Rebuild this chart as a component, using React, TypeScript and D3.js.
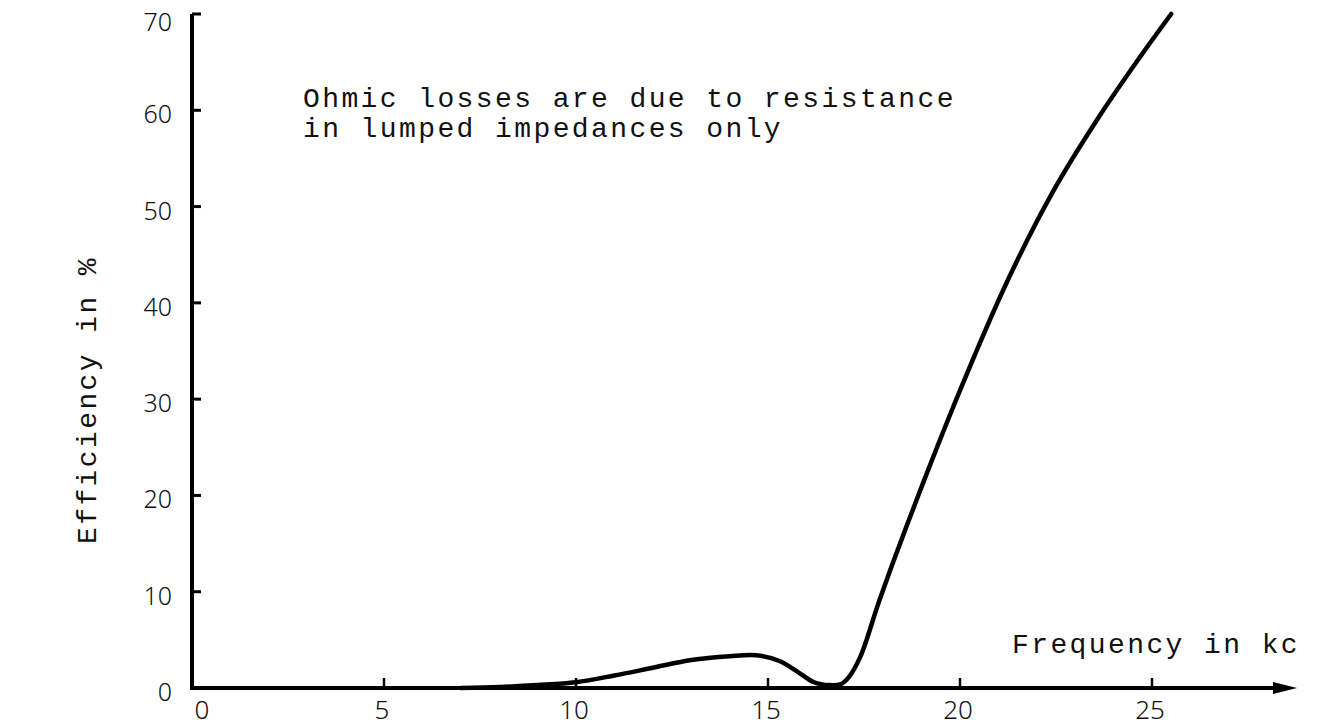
import React from "react";
import * as d3 from "d3";

const freq = [7, 8, 9, 10, 11, 12, 13, 14, 14.7, 15.3, 15.8, 16.2, 16.6, 16.9, 17.1, 17.4, 17.9, 18.57, 20, 21.25, 22.4, 23.65, 24.7, 25.5];
const eff = [0, 0.1, 0.3, 0.6, 1.3, 2.1, 2.9, 3.3, 3.4, 2.8, 1.6, 0.6, 0.3, 0.4, 1.1, 3.2, 9.1, 16.4, 30.9, 42.4, 51.4, 59.5, 65.6, 70];
const xTicks = [0, 5, 10, 15, 20, 25];
const yTicks = [0, 10, 20, 30, 40, 50, 60, 70];
const noteLines = ["Ohmic losses are due to resistance", "in lumped impedances only"];
const xTitle = "Frequency in kc";
const yTitle = "Efficiency in %";

const W = 1320, H = 726;
const mono = "'Liberation Mono', 'Courier New', monospace";
const sans = "'Noto Sans', 'DejaVu Sans', sans-serif";

export default function App() {
  const x = d3.scaleLinear().domain([0, 25]).range([192, 1152]);
  const y = d3.scaleLinear().domain([0, 70]).range([688, 14]);
  const line = d3.line<number>()
    .x((_, i) => x(freq[i]))
    .y((d) => y(d))
    .curve(d3.curveCatmullRom.alpha(0.5));
  const axisEnd = 1297;
  return (
    <svg width={W} height={H} style={{ position: "absolute", left: 0, top: 0, background: "#fff" }}>
      {/* y axis */}
      <line x1={x(0)} x2={x(0)} y1={y(0) + 2} y2={y(70)} stroke="#000" strokeWidth={4} />
      {yTicks.filter((t) => t > 0).map((t) => (
        <line key={"yt" + t} x1={x(0)} x2={x(0) + 9} y1={y(t)} y2={y(t)} stroke="#000" strokeWidth={3} />
      ))}
      {yTicks.map((t) => (
        <text key={"yl" + t} x={172} y={y(t) + (t === 70 ? 8 : 4)} dy="0.36em" textAnchor="end" fontFamily={sans} fontWeight={300} fontSize={25} fill="#111">{t}</text>
      ))}
      {/* x axis */}
      <line x1={x(0) - 2} x2={axisEnd - 18} y1={y(0)} y2={y(0)} stroke="#000" strokeWidth={4} />
      <path d={`M${axisEnd},${y(0)} L${axisEnd - 24},${y(0) - 6} L${axisEnd - 24},${y(0) + 6} Z`} fill="#000" />
      {xTicks.filter((t) => t > 0).map((t) => (
        <line key={"xt" + t} x1={x(t)} x2={x(t)} y1={y(0)} y2={y(0) - 10} stroke="#000" strokeWidth={2.5} />
      ))}
      {xTicks.map((t) => (
        <text key={"xl" + t} x={x(t) + (t === 0 ? 10 : -2)} y={719} textAnchor="middle" fontFamily={sans} fontWeight={300} fontSize={26} fill="#111">{t}</text>
      ))}
      {/* curve */}
      <path d={line(eff) || ""} fill="none" stroke="#000" strokeWidth={4.5} strokeLinecap="round" />
      {/* annotation */}
      {noteLines.map((s, i) => (
        <text key={"n" + i} x={303} y={107 + i * 30} fontFamily={mono} fontSize={28} letterSpacing={2.4} fill="#111" xmlSpace="preserve">{s}</text>
      ))}
      <text x={1012} y={653} fontFamily={mono} fontSize={28} letterSpacing={2.4} fill="#111">{xTitle}</text>
      <text transform={`translate(96,400) rotate(-90)`} textAnchor="middle" fontFamily={mono} fontSize={28} letterSpacing={2.4} fill="#111">{yTitle}</text>
    </svg>
  );
}
